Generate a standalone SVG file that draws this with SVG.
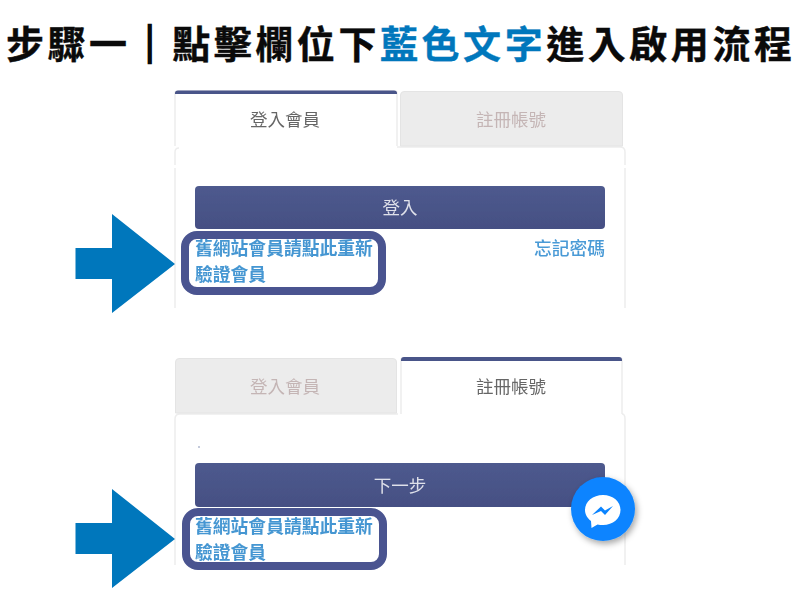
<svg xmlns="http://www.w3.org/2000/svg" width="800" height="610" viewBox="0 0 800 610">
<defs>
<style>
.cjk{font-family:"Noto Sans CJK TC","Noto Sans CJK SC",sans-serif}
.title{font-size:38px;font-weight:700;letter-spacing:3.55px;fill:#0a0a0a;stroke:#0a0a0a;stroke-width:0.4px}
.tab{font-size:17.5px;text-anchor:middle;dominant-baseline:central}
.on{fill:#666}.off{fill:#c4b5b5}
.btn{font-size:17.5px;fill:#dfe1ea;text-anchor:middle;dominant-baseline:central}
.link{font-size:17.8px;font-weight:700;fill:#4496d2;dominant-baseline:central}
.forgot{font-size:17.8px;font-weight:500;fill:#4a9ad6;dominant-baseline:central}
.frame{fill:none;stroke:#ededed;stroke-width:1.5}
.inactive{fill:#ececec;stroke:#e4e4e4;stroke-width:1}
.bar{fill:#4a5489}
.hl{fill:none;stroke:#4a5490;stroke-width:8}
.arrow{fill:#0077bc}
</style>
<linearGradient id="btnFill" x1="0" y1="0" x2="0" y2="1"><stop offset="0" stop-color="#4e5a8e"/><stop offset="1" stop-color="#454f83"/></linearGradient>
<filter id="soft" x="-5%" y="-5%" width="110%" height="110%"><feGaussianBlur stdDeviation="0.5"/></filter>
<filter id="shadow" x="-30%" y="-30%" width="160%" height="160%"><feDropShadow dx="2" dy="3" stdDeviation="3" flood-color="#000" flood-opacity="0.35"/></filter>
<path id="arrowShape" class="arrow" d="M75.500 248H112V214L175 264L112 313V279H75.500Z"/>
</defs>
<rect width="800" height="610" fill="#fff"/>
<g id="title"><text class="cjk title" x="6" y="58">步驟一<tspan stroke-width="2.5">｜</tspan>點擊欄位下<tspan fill="#0077bc" stroke="#0077bc">藍色文字</tspan>進入啟用流程</text></g>

<g id="panel-login" filter="url(#soft)">
<path class="frame" d="M175 308V168M175 165V152Q175 148 179 148M397 147H620Q625 147 625 152V165M625 168V308"/>
<path fill="#fff" stroke="#ededed" stroke-width="1.500" d="M175 146V93Q175 91 178 91H395Q397 91 397 93V146"/>
<path class="bar" d="M175 94V93Q175 90.500 178 90.500H394Q397 90.500 397 93V94Z"/>
<path class="inactive" d="M400.500 146V95Q400.500 91.500 404 91.500H619Q622.500 91.500 622.500 95V146Z"/>
<text class="cjk tab on" x="285" y="118">登入會員</text>
<text class="cjk tab off" x="511" y="118">註冊帳號</text>
<rect x="195" y="186" width="410" height="43" rx="4" fill="url(#btnFill)"/>
<text class="cjk btn" x="400" y="206">登入</text>
<text class="cjk link" x="195" y="247">舊網站會員請點此重新</text>
<text class="cjk link" x="195" y="273">驗證會員</text>
<text class="cjk forgot" x="534" y="247">忘記密碼</text>
</g>
<g id="highlight-login"><rect class="hl" x="185" y="235" width="197" height="56" rx="12"/></g>
<g id="arrow-login"><use href="#arrowShape"/></g>

<g id="panel-register" filter="url(#soft)">
<path class="frame" d="M175 565V419Q175 414 180 414H398M622 414Q625 414 625 419V565"/>
<path class="inactive" d="M175.500 413V362Q175.500 358.500 179 358.500H393Q396.500 358.500 396.500 362V413Z"/>
<path fill="#fff" stroke="#ededed" stroke-width="1.500" d="M401 414V360Q401 358 403 358H620Q622 358 622 360V414"/>
<path class="bar" d="M401 361V360Q401 357 404 357H619Q622 357 622 360V361Z"/>
<text class="cjk tab off" x="285" y="385">登入會員</text>
<text class="cjk tab on" x="511" y="385">註冊帳號</text>
<circle cx="199" cy="447" r="0.8" fill="#7a86ad"/>
<rect x="195" y="463" width="410" height="44" rx="4" fill="url(#btnFill)"/>
<text class="cjk btn" x="400" y="484">下一步</text>
<text class="cjk link" x="195" y="525">舊網站會員請點此重新</text>
<text class="cjk link" x="195" y="551">驗證會員</text>
</g>
<g id="highlight-register"><rect class="hl" x="186" y="512" width="197" height="54" rx="12"/></g>
<g id="arrow-register"><use href="#arrowShape" y="275"/></g>

<g id="messenger">
<circle cx="603" cy="509" r="32" fill="#0a84ff" filter="url(#shadow)"/>
<path fill="#fff" d="M603 495C593 495 585 501.500 585 510C585 514.500 587.500 518.500 591 521L591.500 528L597.500 524.500Q600 525 603 525C613 525 620.500 518.500 620.500 510C620.500 501.500 613 495 603 495Z"/>
<path fill="#0a84ff" d="M592 515L601 506.500L605 510.500L613 506L605 515L601 511Z"/>
</g>
</svg>
